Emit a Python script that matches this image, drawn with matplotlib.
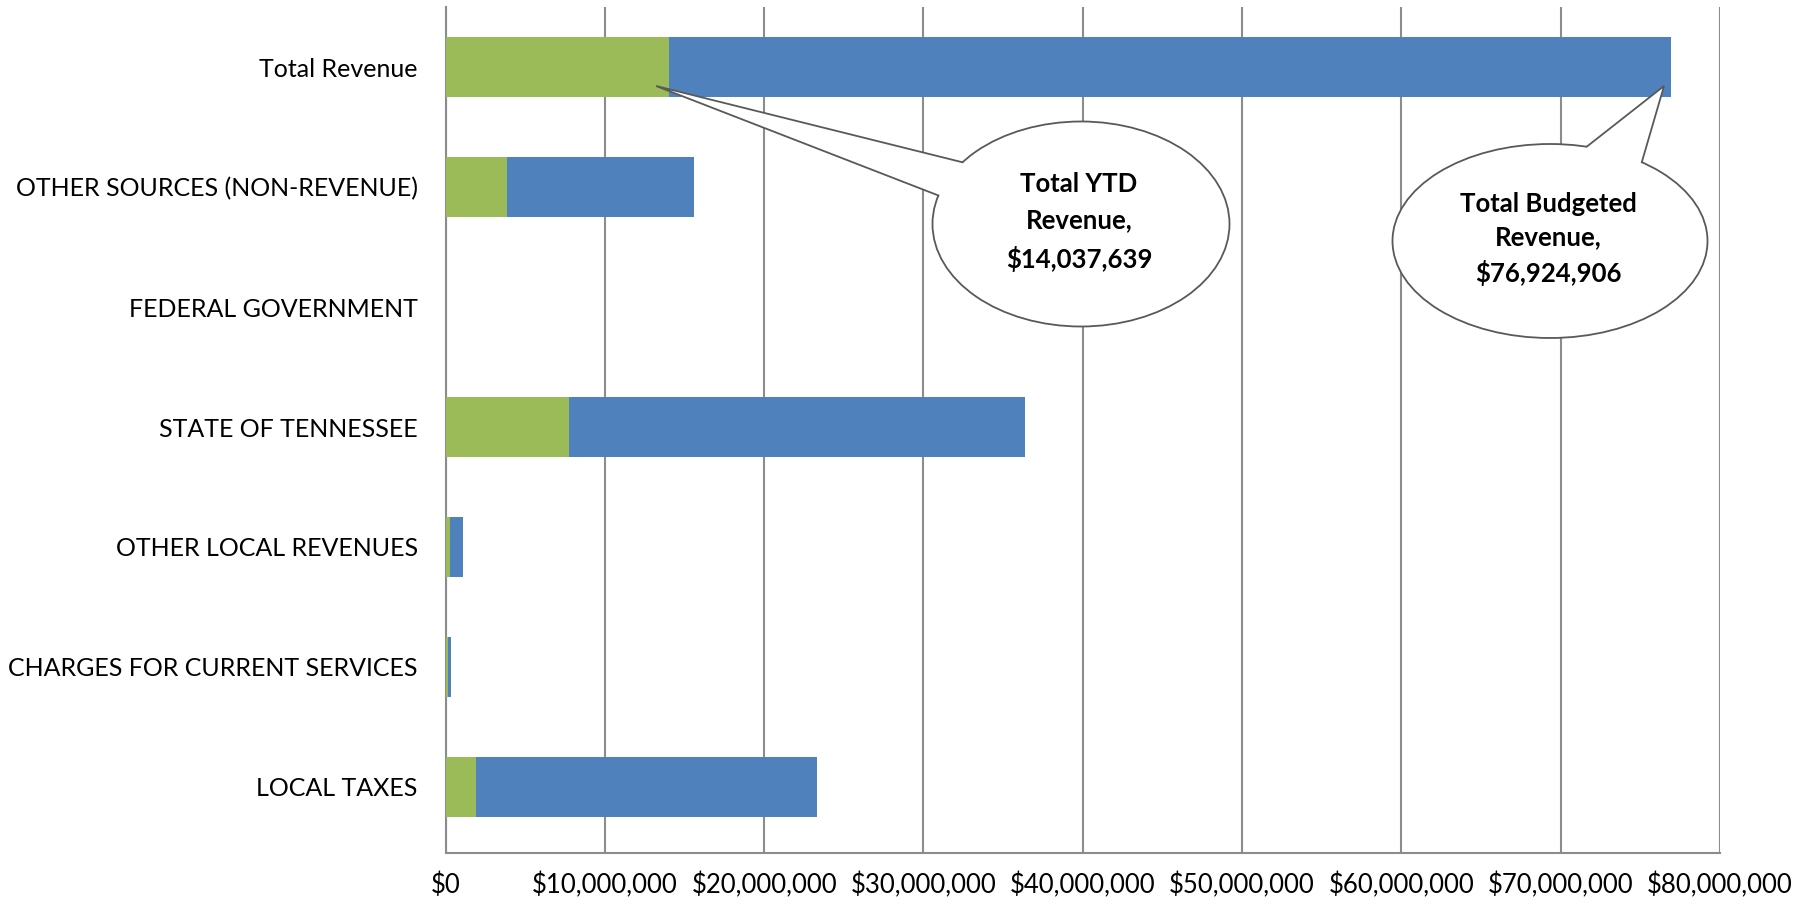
import matplotlib
matplotlib.use("Agg")
from matplotlib import pyplot as plt
from matplotlib.patches import Ellipse, Polygon
from matplotlib.ticker import FuncFormatter
import numpy as np

# categories bottom -> top
categories = ["LOCAL TAXES", "CHARGES FOR CURRENT SERVICES", "OTHER LOCAL REVENUES",
              "STATE OF TENNESSEE", "FEDERAL GOVERNMENT", "OTHER SOURCES (NON-REVENUE)",
              "Total Revenue"]
budgeted = [23300000, 330000, 1080000, 36400000, 80000, 15600000, 76924906]
ytd = [1890000, 160000, 260000, 7770000, 0, 3850000, 14037639]
xticks = [0, 10000000, 20000000, 30000000, 40000000, 50000000, 60000000, 70000000, 80000000]

plt.rcParams['font.family'] = ['Lato', 'DejaVu Sans']

W, H = 1814, 901
fig = plt.figure(figsize=(W / 100, H / 100), dpi=100)
ax = fig.add_axes([445.5 / W, 1 - 853 / H, (1720 - 445.5) / W, (853 - 7) / H])

y = np.arange(len(categories))
ax.barh(y, budgeted, height=0.5, color='#4F81BD', zorder=2)
ax.barh(y, ytd, height=0.5, color='#9BBB59', zorder=3)

ax.set_xlim(0, 80000000)
ax.set_ylim(-0.55, 6.5)
ax.set_xticks(xticks)
ax.xaxis.set_major_formatter(FuncFormatter(lambda v, p: "${:,.0f}".format(v)))
ax.set_yticks(y)
ax.set_yticklabels(categories)
ax.tick_params(axis='both', length=0, colors='black')
ax.tick_params(axis='x', pad=14, labelsize=18.5)
ax.tick_params(axis='y', pad=20, labelsize=18)
ax.grid(axis='x', color='#8C8C8C', linewidth=1.5, zorder=0)
for s in ['top', 'right']:
    ax.spines[s].set_visible(False)
ax.spines['left'].set_color('#8C8C8C')
ax.spines['left'].set_linewidth(1.5)
ax.spines['bottom'].set_color('#8C8C8C')
ax.spines['bottom'].set_linewidth(1.5)

# overlay in pixel coords (y up) for the callouts
ov = fig.add_axes([0, 0, 1, 1], zorder=5)
ov.set_xlim(0, W)
ov.set_ylim(0, H)
ov.axis('off')


def to_px(xv, yv):
    d = ax.transData.transform((xv, yv))
    return d[0] * W / fig.bbox.width, d[1] * H / fig.bbox.height


def on_ellipse(cx, cy, w, h, p):
    # push a point along the ray from the centre onto the ellipse outline
    dx, dy = p[0] - cx, p[1] - cy
    k = 1 / np.sqrt((dx / (w / 2)) ** 2 + (dy / (h / 2)) ** 2)
    return cx + dx * k, cy + dy * k


def callout(center, w, h, base1, base2, tip, text, ls):
    cx, cy = center
    b1 = on_ellipse(cx, cy, w, h, base1)
    b2 = on_ellipse(cx, cy, w, h, base2)
    ov.add_patch(Ellipse(center, w, h, facecolor='white', edgecolor='#595959', lw=1.3, zorder=1))
    i1 = (b1[0] + (cx - b1[0]) * 0.1, b1[1] + (cy - b1[1]) * 0.1)
    i2 = (b2[0] + (cx - b2[0]) * 0.1, b2[1] + (cy - b2[1]) * 0.1)
    ov.add_patch(Polygon([tip, b1, i1, i2, b2], closed=True,
                         facecolor='white', edgecolor='none', zorder=2))
    ov.plot([b1[0], tip[0], b2[0]], [b1[1], tip[1], b2[1]],
            color='#595959', lw=1.3, zorder=3, solid_joinstyle='miter')
    ov.text(cx - 2, cy + 2, text, ha='center', va='center', fontsize=18.5,
            fontweight='bold', linespacing=ls, zorder=4)


top = len(categories) - 1
tx, ty = to_px(ytd[top], top)
callout((1081, H - 224), 297, 205, (960, H - 161), (936, H - 195), (tx - 13, ty - 19),
        "Total YTD\nRevenue,\n${:,.0f}".format(ytd[top]), 1.6)
tx, ty = to_px(budgeted[top], top)
callout((1550, H - 241), 315, 194, (1587, H - 146), (1642, H - 162), (tx - 7, ty - 19),
        "Total Budgeted\nRevenue,\n${:,.0f}".format(budgeted[top]), 1.5)

fig.savefig("out.png", dpi=100)
